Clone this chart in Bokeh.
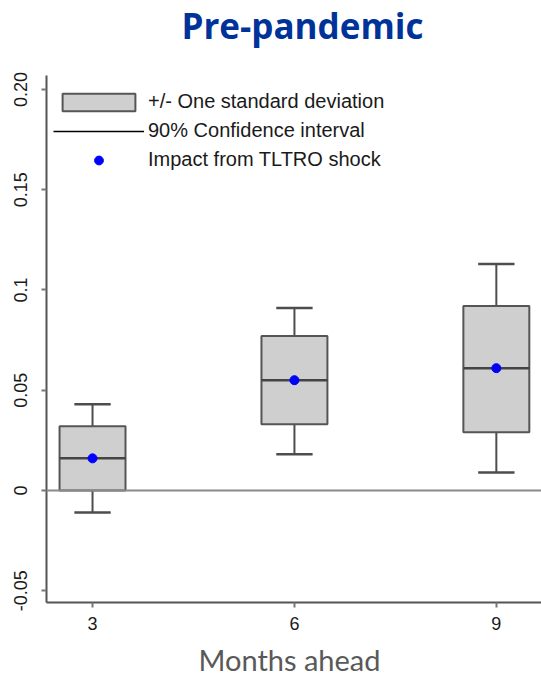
from bokeh.plotting import figure
from bokeh.models import Span, Legend, LegendItem, FixedTicker, Title
from bokeh.embed import file_html
from bokeh.resources import INLINE

# Data
months = [3, 6, 9]
impact = [0.016, 0.055, 0.061]          # median / impact from TLTRO shock
sd_low = [0.000, 0.033, 0.029]          # box bottom (-1 sd)
sd_high = [0.032, 0.077, 0.092]         # box top (+1 sd)
ci_low = [-0.011, 0.018, 0.009]         # 90% CI lower
ci_high = [0.043, 0.091, 0.113]         # 90% CI upper
y_ticks = [-0.05, 0.0, 0.05, 0.1, 0.15, 0.2]
y_tick_labels = ["-0.05", "0", "0.05", "0.1", "0.15", "0.20"]
x_ticks = [3, 6, 9]
title_text = "Pre-pandemic"
x_label_text = "Months ahead"

box_half = 0.49
cap_half = 0.27

p = figure(width=541, height=678, output_backend="svg", toolbar_location=None,
           x_range=(2.316, 9.671), y_range=(-0.0559, 0.207),
           min_border_left=46, min_border_right=0, min_border_top=75, min_border_bottom=76)
p.outline_line_color = None
p.xgrid.visible = False
p.ygrid.visible = False
p.background_fill_color = "white"
p.border_fill_color = "white"

# top: invisible spacer between frame and title, then the title itself
p.add_layout(Title(text=" ", text_font_size="1px", standoff=22), "above")
p.add_layout(Title(text=title_text, align="left", offset=135, vertical_align="top",
                   standoff=0, text_font="Open Sans", text_font_style="bold",
                   text_font_size="35px", text_color="#003399"), "above")

# bottom: small spacer below the tick labels, then the caption
p.xaxis.major_label_standoff = 9
p.add_layout(Title(text=" ", text_font_size="1px", standoff=4), "below")
p.add_layout(Title(text=x_label_text, align="left", offset=152, vertical_align="bottom",
                   standoff=0, text_font="Lato", text_font_style="normal",
                   text_font_size="29px", text_color="#595959"), "below")

# zero line
p.add_layout(Span(location=0, dimension="width", line_color="#8a8a8a", line_width=2))

# whiskers
p.segment(x0=months, y0=ci_low, x1=months, y1=sd_low, line_color="#4d4d4d", line_width=2)
p.segment(x0=months, y0=sd_high, x1=months, y1=ci_high, line_color="#4d4d4d", line_width=2)
cap_l = [m - cap_half for m in months]
cap_r = [m + cap_half for m in months]
p.segment(x0=cap_l, y0=ci_low, x1=cap_r, y1=ci_low, line_color="#4d4d4d", line_width=2.5)
p.segment(x0=cap_l, y0=ci_high, x1=cap_r, y1=ci_high, line_color="#4d4d4d", line_width=2.5)

# boxes
box_l = [m - box_half for m in months]
box_r = [m + box_half for m in months]
boxes = p.quad(left=box_l, right=box_r, bottom=sd_low, top=sd_high,
               fill_color="#cfcfcf", line_color="#555555", line_width=2)
p.segment(x0=box_l, y0=impact, x1=box_r, y1=impact, line_color="#444444", line_width=2.5)

# dots
dots = p.scatter(months, impact, size=9, color="#0000ff")

# legend line proxy (no data points, only shown in legend)
ci_line = p.line(x=[float("nan")], y=[float("nan")], line_color="black", line_width=1.5)

legend = Legend(items=[
    LegendItem(label="+/- One standard deviation", renderers=[boxes]),
    LegendItem(label="90% Confidence interval", renderers=[ci_line]),
    LegendItem(label="Impact from TLTRO shock", renderers=[dots]),
], location=(7, 431))
legend.glyph_width = 91
legend.glyph_height = 22
legend.spacing = 6
legend.label_standoff = 4
legend.padding = 0
legend.margin = 0
legend.border_line_color = None
legend.background_fill_alpha = 0
legend.label_text_font = "Liberation Sans"
legend.label_text_font_size = "20px"
legend.label_text_color = "#1a1a1a"
legend.label_height = 22
p.add_layout(legend)

# axes
p.yaxis.ticker = FixedTicker(ticks=y_ticks)
p.yaxis.major_label_overrides = {t: l for t, l in zip(y_ticks, y_tick_labels)}
p.yaxis.major_label_orientation = "vertical"
p.xaxis.ticker = FixedTicker(ticks=x_ticks)
for ax in (p.xaxis[0], p.yaxis[0]):
    ax.axis_line_color = "#555555"
    ax.axis_line_width = 2
    ax.major_tick_line_color = "#777777"
    ax.major_tick_line_width = 2
    ax.major_tick_out = 5
    ax.major_tick_in = 0
    ax.minor_tick_line_color = None
    ax.major_label_text_font = "Liberation Sans"
    ax.major_label_text_font_size = "18px"
    ax.major_label_text_color = "#1a1a1a"
p.yaxis.major_label_standoff = 14

open("out.html", "w").write(file_html(p, INLINE))
